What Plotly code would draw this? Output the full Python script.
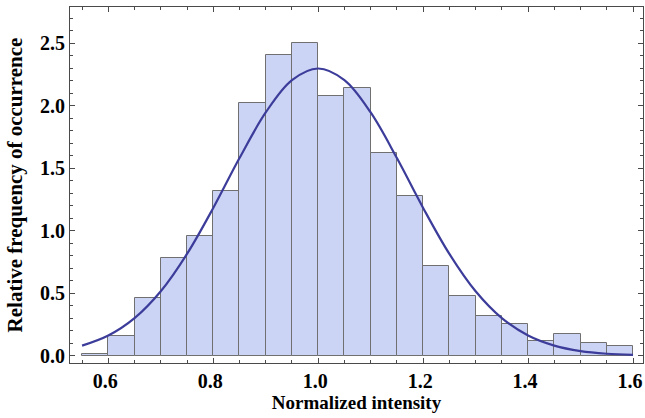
import plotly.graph_objects as go

# Histogram bins (left edges) and heights
bin_left = [0.55, 0.60, 0.65, 0.70, 0.75, 0.80, 0.85, 0.90, 0.95, 1.00, 1.05,
            1.10, 1.15, 1.20, 1.25, 1.30, 1.35, 1.40, 1.45, 1.50, 1.55]
bin_height = [0.015, 0.16, 0.46, 0.78, 0.96, 1.32, 2.02, 2.405, 2.50, 2.08, 2.14,
              1.62, 1.28, 0.72, 0.477, 0.318, 0.257, 0.117, 0.176, 0.099, 0.077]
bin_width = 0.05

# Fitted curve
curve_x = [0.55, 0.60, 0.65, 0.70, 0.75, 0.80, 0.85, 0.90, 0.95, 1.00, 1.05,
           1.10, 1.15, 1.20, 1.25, 1.30, 1.35, 1.40, 1.45, 1.50, 1.55, 1.60]
curve_y = [0.080, 0.161, 0.300, 0.515, 0.814, 1.182, 1.581, 1.946, 2.205, 2.298, 2.205,
           1.946, 1.581, 1.182, 0.814, 0.515, 0.300, 0.161, 0.080, 0.036, 0.015, 0.006]

x_ticks = [0.6, 0.8, 1.0, 1.2, 1.4, 1.6]
y_ticks = [0.0, 0.5, 1.0, 1.5, 2.0, 2.5]

bar_x = [l + bin_width / 2 for l in bin_left]

FONT = "Liberation Serif"
FRAME = "#4a4a4a"

fig = go.Figure()
fig.add_trace(go.Bar(
    x=bar_x, y=bin_height, width=bin_width,
    marker=dict(color="#ccd4f5", line=dict(color="#707070", width=1)),
    showlegend=False, hoverinfo="skip",
))
fig.add_trace(go.Scatter(
    x=curve_x, y=curve_y, mode="lines", line_shape="spline",
    line=dict(color="#3c3c9a", width=2.2), showlegend=False,
))

fig.update_layout(
    width=645, height=418,
    margin=dict(l=70, r=2, t=7, b=55),
    plot_bgcolor="white", paper_bgcolor="white",
    bargap=0,
    font=dict(family=FONT, size=16, color="black"),
)
fig.update_xaxes(
    range=[0.527, 1.619], tickvals=x_ticks, ticktext=[f"{v:.1f}" for v in x_ticks],
    ticks="inside", ticklen=5, tickcolor=FRAME, tickwidth=1,
    minor=dict(dtick=0.05, tick0=0.0, ticks="inside", ticklen=3, tickcolor=FRAME, showgrid=False),
    showline=True, linecolor=FRAME, linewidth=1, mirror="ticks",
    showgrid=False, zeroline=False, automargin=False,
    ticklabelshift=-3,
    tickfont=dict(family=FONT, size=20, weight="bold"),
    title=dict(text="Normalized intensity", font=dict(family=FONT, size=19, weight="bold"), standoff=4),
)
fig.update_yaxes(
    range=[-0.059, 2.79], tickvals=y_ticks, ticktext=[f"{v:.1f}" for v in y_ticks],
    ticks="inside", ticklen=5, tickcolor=FRAME, tickwidth=1,
    minor=dict(dtick=0.1, tick0=0.0, ticks="inside", ticklen=3, tickcolor=FRAME, showgrid=False),
    showline=True, linecolor=FRAME, linewidth=1, mirror="ticks",
    showgrid=False, zeroline=False, automargin=False,
    tickfont=dict(family=FONT, size=20, weight="bold"),
    title=dict(text="Relative frequency of occurrence", font=dict(family=FONT, size=21, weight="bold"), standoff=11),
)

fig.write_html("out.html", config={"displayModeBar": False},
               post_script="document.body.style.margin='0';")
